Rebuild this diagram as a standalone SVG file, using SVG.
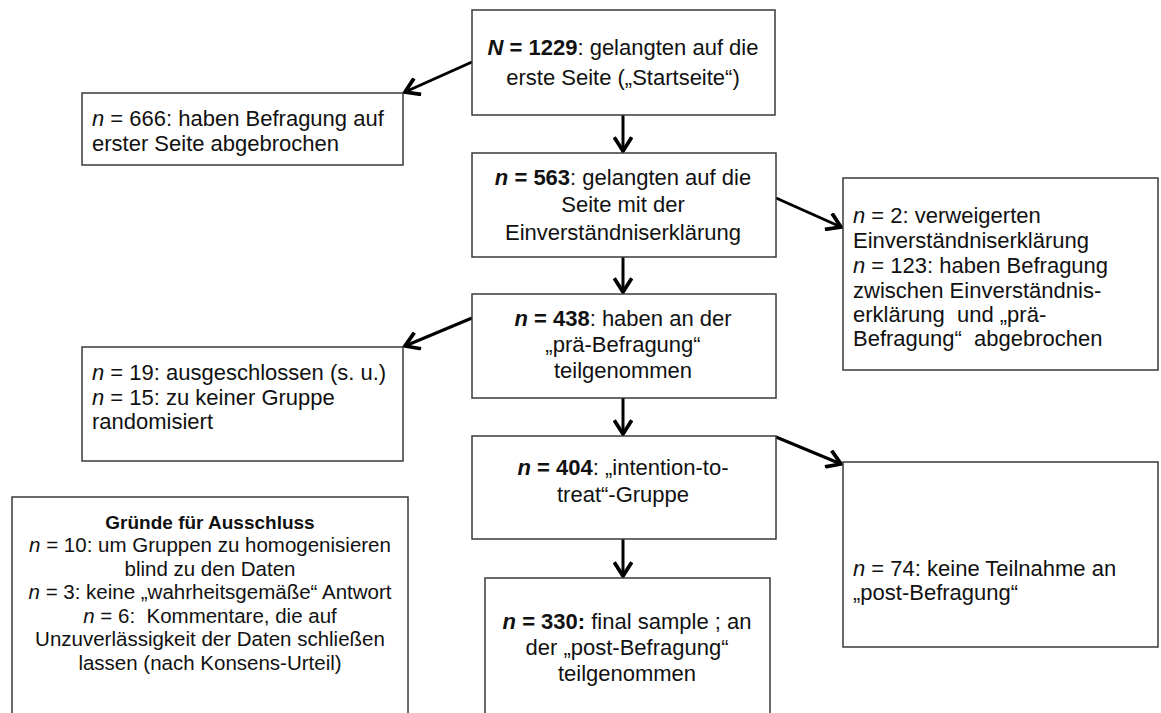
<svg xmlns="http://www.w3.org/2000/svg" width="1161" height="713" viewBox="0 0 1161 713">
<style>
.box{fill:#fff;stroke:#3a3a3a;stroke-width:1.5}
text{font-family:"Liberation Sans",Arial,sans-serif;font-size:22px;fill:#111;white-space:pre}
.c{text-anchor:middle}
.b{font-weight:bold}
.i{font-style:italic}
.s{font-size:20.5px}
.h{font-size:19px;font-weight:bold}
.conn{stroke:#000;stroke-width:3;fill:none;marker-end:url(#ah)}
</style>
<defs>
<marker id="ah" markerUnits="userSpaceOnUse" markerWidth="20" markerHeight="20" viewBox="-12 -8 14 16" refX="0" refY="0" orient="auto">
<path d="M-11,-7 L0,0 L-11,7" fill="none" stroke="#000" stroke-width="3"/>
</marker>
</defs>
<rect width="1161" height="713" fill="#fff"/>
<g id="connectors">
<line class="conn" x1="472" y1="62" x2="405" y2="92"/>
<line class="conn" x1="623" y1="115" x2="623" y2="151"/>
<line class="conn" x1="776" y1="198" x2="841" y2="227"/>
<line class="conn" x1="623" y1="257" x2="623" y2="292"/>
<line class="conn" x1="472" y1="318" x2="405" y2="346"/>
<line class="conn" x1="623" y1="398" x2="623" y2="434"/>
<line class="conn" x1="776" y1="437" x2="841" y2="464"/>
<line class="conn" x1="623" y1="539" x2="623" y2="576"/>
</g>
<g id="n1229">
<rect class="box" x="472" y="10" width="303" height="105"/>
<text class="c" x="623" y="55"><tspan class="b i">N</tspan><tspan class="b"> = 1229</tspan>: gelangten auf die</text>
<text class="c" x="623" y="85">erste Seite („Startseite“)</text>
</g>
<g id="n666">
<rect class="box" x="82" y="93" width="321" height="72"/>
<text x="92" y="126"><tspan class="i">n</tspan> = 666: haben Befragung auf</text>
<text x="92" y="151">erster Seite abgebrochen</text>
</g>
<g id="n563">
<rect class="box" x="472" y="153" width="304" height="104"/>
<text class="c" x="623" y="185"><tspan class="b i">n</tspan><tspan class="b"> = 563</tspan>: gelangten auf die</text>
<text class="c" x="623" y="212">Seite mit der</text>
<text class="c" x="623" y="240">Einverständniserklärung</text>
</g>
<g id="n2">
<rect class="box" x="843" y="178" width="315" height="192"/>
<text x="853" y="223"><tspan class="i">n</tspan> = 2: verweigerten</text>
<text x="853" y="248">Einverständniserklärung</text>
<text x="853" y="273"><tspan class="i">n</tspan> = 123: haben Befragung</text>
<text x="853" y="298">zwischen Einverständnis-</text>
<text x="853" y="322">erklärung  und „prä-</text>
<text x="853" y="346">Befragung“  abgebrochen</text>
</g>
<g id="n438">
<rect class="box" x="472" y="294" width="304" height="104"/>
<text class="c" x="623" y="326"><tspan class="b i">n</tspan><tspan class="b"> = 438</tspan>: haben an der</text>
<text class="c" x="623" y="352">„prä-Befragung“</text>
<text class="c" x="623" y="378">teilgenommen</text>
</g>
<g id="n19">
<rect class="box" x="82" y="347" width="321" height="114"/>
<text x="92" y="380"><tspan class="i">n</tspan> = 19: ausgeschlossen (s. u.)</text>
<text x="92" y="405"><tspan class="i">n</tspan> = 15: zu keiner Gruppe</text>
<text x="92" y="429">randomisiert</text>
</g>
<g id="gruende">
<rect class="box" x="12" y="497" width="396" height="230"/>
<text class="c h" x="210" y="529">Gründe für Ausschluss</text>
<text class="c s" x="210" y="552"><tspan class="i">n</tspan> = 10: um Gruppen zu homogenisieren</text>
<text class="c s" x="210" y="576">blind zu den Daten</text>
<text class="c s" x="210" y="599"><tspan class="i">n</tspan> = 3: keine „wahrheitsgemäße“ Antwort</text>
<text class="c s" x="210" y="623"><tspan class="i">n</tspan> = 6:  Kommentare, die auf</text>
<text class="c s" x="210" y="646">Unzuverlässigkeit der Daten schließen</text>
<text class="c s" x="210" y="670">lassen (nach Konsens-Urteil)</text>
</g>
<g id="n404">
<rect class="box" x="472" y="436" width="304" height="103"/>
<text class="c" x="623" y="475"><tspan class="b i">n</tspan><tspan class="b"> = 404</tspan>: „intention-to-</text>
<text class="c" x="623" y="502">treat“-Gruppe</text>
</g>
<g id="n74">
<rect class="box" x="843" y="462" width="315" height="185"/>
<text x="853" y="576"><tspan class="i">n</tspan> = 74: keine Teilnahme an</text>
<text x="853" y="600">„post-Befragung“</text>
</g>
<g id="n330">
<rect class="box" x="485" y="578" width="285" height="150"/>
<text class="c" x="627" y="629"><tspan class="b i">n</tspan><tspan class="b"> = 330:</tspan> final sample ; an</text>
<text class="c" x="627" y="655">der „post-Befragung“</text>
<text class="c" x="627" y="681">teilgenommen</text>
</g>
</svg>
